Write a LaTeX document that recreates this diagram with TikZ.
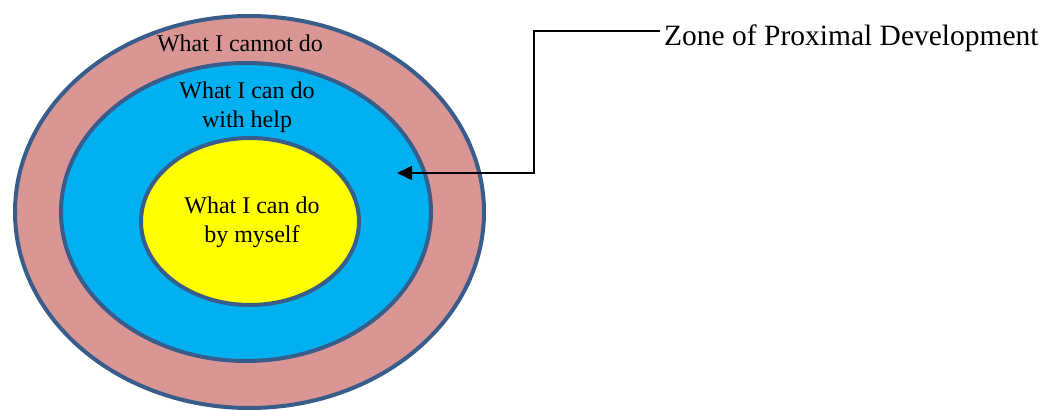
\documentclass[tikz,border=0pt]{standalone}
\usepackage{fontspec}
\setmainfont{Liberation Serif}
\usetikzlibrary{shapes.geometric,arrows.meta}
\definecolor{ringline}{HTML}{385D8A}
\definecolor{pinkfill}{HTML}{D99694}
\definecolor{bluefill}{HTML}{00B0F0}
\definecolor{yellowfill}{HTML}{FFFF00}
\begin{document}
\begin{tikzpicture}[x=1pt,y=-1pt,
  zonering/.style={ellipse, draw=ringline, line width=4pt, inner sep=0pt},
  ringtext/.style={inner sep=0pt, align=center, font=\fontsize{24}{29}\selectfont},
  pointer/.style={line width=1.5pt, -{Triangle[length=15pt,width=14pt]}}
]
\useasboundingbox (0,0) rectangle (1044,411);
\node[zonering, fill=pinkfill, minimum width=469pt, minimum height=392pt] (outer) at (249.5,212) {};
\node[zonering, fill=bluefill, minimum width=370pt, minimum height=298pt] (middle) at (246,212) {};
\node[zonering, fill=yellowfill, minimum width=218pt, minimum height=167pt] (inner) at (250,221.5) {};
\node[ringtext, anchor=base] (cannot) at (240,52) {What I cannot do};
\node[ringtext] (withhelp) at (247,107) {What I can do\\with help};
\node[ringtext] (myself) at (252,222) {What I can do\\by myself};
\node[anchor=base west, inner sep=0pt, font=\fontsize{29.5}{35}\selectfont] (zpd) at (664,46) {Zone of Proximal Development};
\coordinate (lstart) at (660,31);
\coordinate (bendA) at (534,31);
\coordinate (bendB) at (534,173);
\coordinate (tip) at (397,173);
\draw[pointer] (lstart) -- (bendA) -- (bendB) -- (tip);
\end{tikzpicture}
\end{document}
